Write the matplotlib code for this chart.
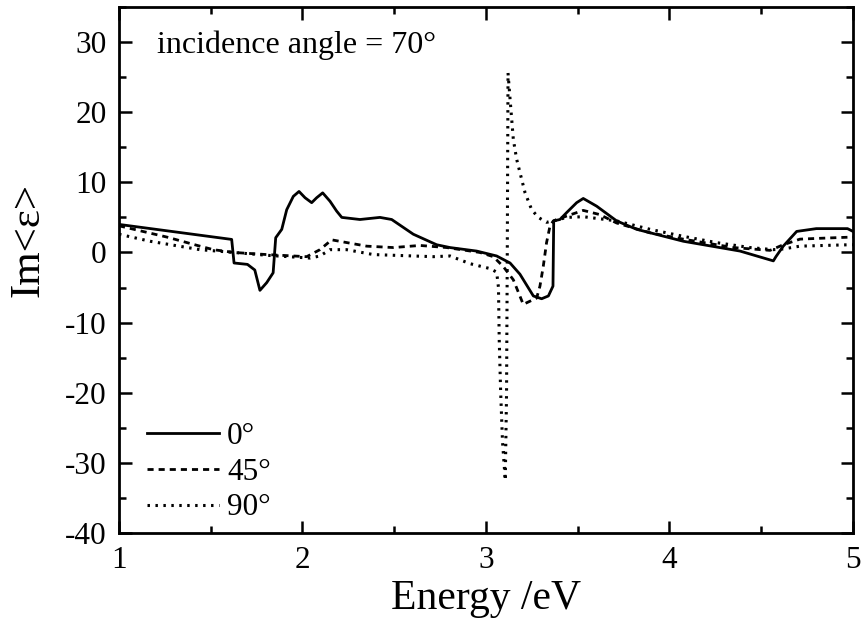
"""Im<eps> vs photon energy for three azimuth angles (incidence angle 70 deg)."""

import matplotlib

matplotlib.use("Agg")
import matplotlib.pyplot as plt

plt.rcParams["font.family"] = ["Liberation Serif", "DejaVu Serif"]
plt.rcParams["axes.unicode_minus"] = False

# values
energy_0 = [1.00, 1.614, 1.627, 1.70, 1.74, 1.768, 1.805, 1.84, 1.854, 1.887,
            1.914, 1.95, 1.981, 2.014, 2.05, 2.077, 2.11, 2.15, 2.186, 2.214,
            2.313, 2.422, 2.486, 2.604, 2.731, 2.804, 2.949, 3.058, 3.131,
            3.185, 3.258, 3.303, 3.34, 3.365, 3.369, 3.403, 3.44, 3.494, 3.53,
            3.603, 3.712, 3.821, 4.075, 4.384, 4.566, 4.58, 4.62, 4.693, 4.80,
            4.93, 4.97, 5.0]
im_eps_0 = [4.0, 1.86, -1.5, -1.7, -2.5, -5.4, -4.3, -2.9, 2.1, 3.3,
            6.1, 8.0, 8.7, 7.8, 7.1, 7.8, 8.5, 7.3, 5.9, 5.0,
            4.7, 5.0, 4.7, 2.6, 1.1, 0.7, 0.2, -0.5, -1.5,
            -3.1, -6.2, -6.6, -6.2, -4.8, 4.5, 4.7, 5.7, 7.1, 7.7,
            6.6, 4.5, 3.3, 1.6, 0.2, -1.2, -0.6, 0.9, 3.0, 3.4,
            3.4, 3.4, 3.0]

energy_45 = [1.0, 1.26, 1.441, 1.514, 1.627, 1.805, 2.023, 2.095, 2.159, 2.222,
             2.35, 2.495, 2.64, 2.786, 2.967, 3.04, 3.094, 3.149, 3.203, 3.276,
             3.294, 3.312, 3.33, 3.349, 3.367, 3.44, 3.53, 3.62, 3.712, 3.894,
             4.075, 4.348, 4.548, 4.62, 4.711, 4.80, 5.0]
im_eps_45 = [3.8, 2.2, 0.9, 0.4, 0.0, -0.3, -0.6, 0.4, 1.8, 1.5,
             0.9, 0.7, 1.0, 0.7, 0.0, -0.6, -2.0, -3.9, -7.4, -6.5,
             -4.8, -2.0, 1.4, 3.8, 4.5, 5.2, 6.0, 5.4, 4.2, 2.8,
             1.9, 0.7, 0.3, 1.1, 1.9, 2.0, 2.2]

energy_90 = [1.0, 1.169, 1.441, 1.627, 1.805, 2.041, 2.095, 2.15, 2.24, 2.386,
             2.713, 2.804, 2.913, 3.022, 3.058, 3.068, 3.072, 3.08, 3.09, 3.105,
             3.112, 3.116, 3.12, 3.131, 3.149, 3.167, 3.185, 3.213, 3.249, 3.285,
             3.33, 3.367, 3.44, 3.53, 3.712, 3.894, 4.075, 4.257, 4.439, 4.566,
             4.62, 4.711, 4.98, 5.0]
im_eps_90 = [2.6, 1.6, 0.4, 0.0, -0.4, -0.8, -0.5, 0.4, 0.4, -0.3,
             -0.6, -0.5, -1.6, -2.3, -2.8, -5.0, -12.4, -20.0, -27.0, -32.5,
             -20.0, 0.0, 25.6, 21.9, 16.1, 13.3, 11.4, 8.5, 6.1, 5.0,
             4.3, 4.5, 5.0, 5.1, 4.5, 3.3, 2.3, 1.4, 0.7, 0.4,
             0.5, 0.9, 1.1, 1.1]

labels = ["0°", "45°", "90°"]

W, H = 862, 626
fig = plt.figure(figsize=(W / 100, H / 100), dpi=100)
ax = fig.add_axes([119 / W, 1 - 533 / H, 734 / W, 526 / H])

ax.plot(energy_0, im_eps_0, color="black", linewidth=2.0, label=labels[0])
ax.plot(energy_45, im_eps_45, color="black", linewidth=2.0,
        linestyle=(0, (2.2, 1.8)), label=labels[1])
ax.plot(energy_90, im_eps_90, color="black", linewidth=2.2,
        linestyle=(0, (0.8, 1.8)), label=labels[2])

ax.set_xlim(1, 5)
ax.set_ylim(-40, 35)
ax.set_xticks([1, 2, 3, 4, 5])
ax.set_xticks([1.5, 2.5, 3.5, 4.5], minor=True)
ax.set_yticks(range(-40, 31, 10))
ax.set_yticks(range(-35, 36, 10), minor=True)

for side in ax.spines.values():
    side.set_linewidth(2.0)
ax.tick_params(which="both", direction="in", top=True, right=True,
               labelsize=22.5, width=1.8, pad=9)
ax.tick_params(which="major", length=9)
ax.tick_params(which="minor", length=5)

ax.text((157 - 119) / 734, (533 - 53) / 526, "incidence angle = 70°",
        transform=ax.transAxes, fontsize=23, va="baseline", ha="left")

ax.legend(loc="lower left", bbox_to_anchor=((147 - 119) / 734, 0.02),
          frameon=False, fontsize=22.5, borderpad=0, borderaxespad=0,
          handlelength=2.3, handletextpad=0.26, labelspacing=0.22)

fig.text(486 / W, 1 - 609 / H, "Energy /eV", fontsize=30,
         ha="center", va="baseline")
fig.text(28 / W, 1 - 240 / H, "Im<ε>", fontsize=31, rotation=90,
         ha="center", va="center")

fig.savefig("out.png", dpi=100)
